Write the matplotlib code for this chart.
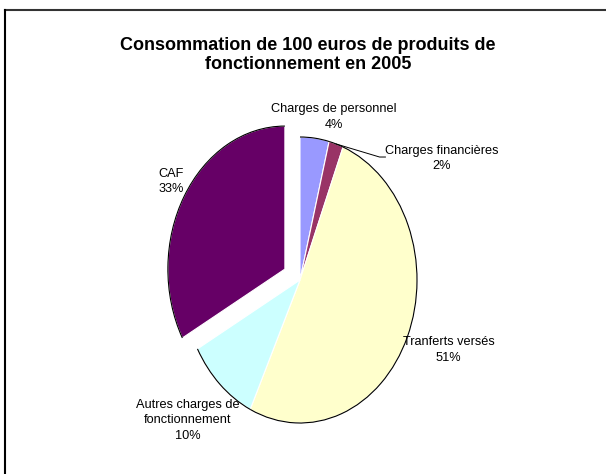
import numpy as np
import matplotlib.pyplot as plt
from matplotlib.patches import Arc

plt.rcParams["font.family"] = ["Liberation Sans", "DejaVu Sans"]

# données
labels = ["Charges de personnel", "Charges financières", "Tranferts versés",
          "Autres charges de\nfonctionnement", "CAF"]
values = [4, 2, 51, 10, 33]
colors = ["#9999FF", "#993366", "#FFFFCC", "#CCFFFF", "#660066"]
explode = [0, 0, 0, 0, 0.15]

W, H = 606, 474
fig = plt.figure(figsize=(W / 100, H / 100), dpi=100)

# centre du camembert (px) et rayons (px) -> ellipse
cx, cy = 300, 280
rx, ry = 117, 143
x0, x1 = -1.5, 1.5
y0, y1 = -1.3, 1.3
ax = fig.add_axes([(cx + x0 * rx) / W, (H - cy + y0 * ry) / H,
                   (x1 - x0) * rx / W, (y1 - y0) * ry / H])

wedges, _ = ax.pie(values, colors=colors, explode=explode, startangle=90,
                   counterclock=False,
                   wedgeprops=dict(edgecolor="white", linewidth=0.8))
ax.set_aspect("auto")
ax.set_xlim(x0, x1)
ax.set_ylim(y0, y1)

# contour noir seulement sur l'arc extérieur
for w in wedges:
    ax.add_patch(Arc(w.center, 2 * w.r, 2 * w.r, theta1=w.theta1, theta2=w.theta2,
                     color="black", linewidth=0.8))

# étiquettes
pos = [(0.29, 1.14), (1.21, 0.85), (1.27, -0.49), (-0.96, -0.98), (-1.10, 0.69)]
for lab, v, (tx, ty) in zip(labels, values, pos):
    ax.text(tx, ty, "{}\n{}%".format(lab, v), ha="center", va="center",
            fontsize=9.2, linespacing=1.4)

# trait de rappel pour les charges financières
a = np.deg2rad(90 - 360 * (values[0] + values[1] / 2) / 100)
ax.plot([np.cos(a), 0.68, 0.73], [np.sin(a), 0.86, 0.86], color="black", linewidth=0.7)

fig.text(308 / W, 1 - 55 / H, "Consommation de 100 euros de produits de\nfonctionnement en 2005",
         ha="center", va="center", fontsize=13, fontweight="bold", linespacing=1.1)

# cadre (bords haut et gauche visibles)
fig.add_artist(plt.Line2D([5 / W, 1], [1 - 10 / H, 1 - 10 / H], color="#333333", linewidth=1.5))
fig.add_artist(plt.Line2D([5 / W, 5 / W], [0, 1 - 10 / H], color="black", linewidth=1.5))

fig.savefig("out.png", dpi=100)
